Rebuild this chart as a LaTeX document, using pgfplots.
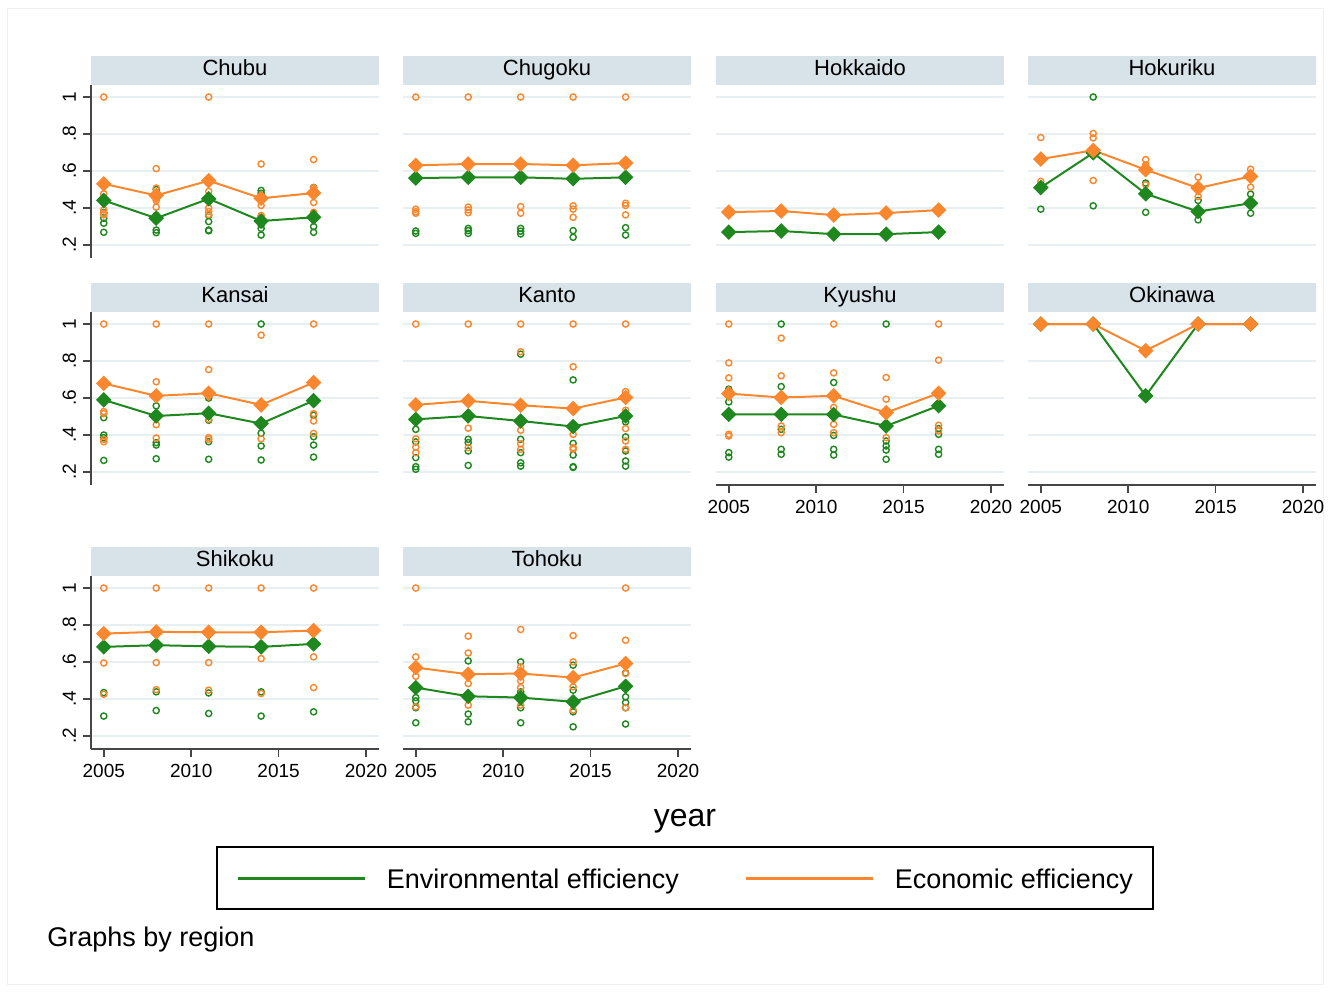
\documentclass[border=0pt]{standalone}
\usepackage{fontspec}
\setmainfont{Liberation Sans}
\usepackage{pgfplots}
\pgfplotsset{compat=1.18}
\definecolor{eg}{RGB}{30,135,30}
\definecolor{eo}{RGB}{250,135,45}
\definecolor{titlebg}{RGB}{216,226,233}
\definecolor{gridcol}{RGB}{232,239,242}
\definecolor{axcol}{RGB}{70,70,70}
\pgfplotsset{
  panel/.style={
    scale only axis, width=144pt, height=86.5pt,
    xmin=2004.27, xmax=2020.74, ymin=0.13, ymax=1.065,
    xtick={2005,2010,2015,2020}, xticklabels={2005,2010,2015,2020},
    ytick={0.2,0.4,0.6,0.8,1}, yticklabels={.2,.4,.6,.8,1},
    separate axis lines,
    axis x line*=bottom, axis y line*=left,
    axis line style={-, draw=axcol, line width=0.75pt},
    tick style={draw=axcol, line width=0.75pt},
    tick align=outside, major tick length=4pt,
    ymajorgrids, grid style={draw=gridcol, line width=0.7pt},
    ticklabel style={font=\fontsize{9.5}{11}\selectfont},
    yticklabel style={rotate=90, anchor=south},
    every axis title shift=0pt,
    title style={at={(0.5,1)}, anchor=south, fill=titlebg, minimum width=144pt,
      minimum height=14.5pt, inner sep=0pt, text height=8pt, text depth=2.3pt,
      yshift=0pt, font=\fontsize{11}{13}\selectfont},
    anchor=north west, clip=false,
  },
  noy/.style={y axis line style={draw=none}, yticklabels={}, ytick style={draw=none}},
  nox/.style={x axis line style={draw=none}, xticklabels={}, xtick style={draw=none}},
  sc/.style={only marks, mark=o, mark size=1.55pt, mark options={line width=0.7pt}, forget plot},
  mn/.style={line width=1pt, mark=square*, mark size=2.25pt, mark options={rotate=45, solid}},
}
\begin{document}
\begin{tikzpicture}
\useasboundingbox (0,0) rectangle (665pt,-496pt);
\draw[gray!12, line width=0.5pt] (3.5pt,-4pt) rectangle (661.5pt,-492pt);

% ---------- Row 1 ----------
\begin{axis}[panel, nox, at={(45.5pt,-42.5pt)}, title=Chubu]
\addplot[sc, eg] coordinates {(2005,0.435)(2005,0.376)(2005,0.345)(2005,0.318)(2005,0.269)(2008,0.50)(2008,0.36)(2008,0.281)(2008,0.267)(2011,0.45)(2011,0.36)(2011,0.327)(2011,0.281)(2011,0.277)(2014,0.495)(2014,0.48)(2014,0.309)(2014,0.29)(2014,0.254)(2017,0.511)(2017,0.37)(2017,0.30)(2017,0.269)};
\addplot[sc, eo] coordinates {(2005,1)(2005,0.477)(2005,0.39)(2005,0.372)(2005,0.363)(2008,0.613)(2008,0.508)(2008,0.405)(2008,0.44)(2011,1)(2011,0.49)(2011,0.40)(2011,0.381)(2011,0.365)(2014,0.638)(2014,0.414)(2014,0.35)(2014,0.36)(2017,0.662)(2017,0.51)(2017,0.43)(2017,0.377)};
\addplot[mn, eg] coordinates {(2005,0.441)(2008,0.345)(2011,0.450)(2014,0.330)(2017,0.350)};
\addplot[mn, eo] coordinates {(2005,0.531)(2008,0.468)(2011,0.548)(2014,0.453)(2017,0.481)};
\end{axis}

\begin{axis}[panel, nox, noy, at={(201.5pt,-42.5pt)}, title=Chugoku]
\addplot[sc, eg] coordinates {(2005,0.276)(2005,0.263)(2008,0.29)(2008,0.278)(2008,0.263)(2011,0.29)(2011,0.275)(2011,0.26)(2014,0.278)(2014,0.242)(2017,0.294)(2017,0.254)};
\addplot[sc, eo] coordinates {(2005,1)(2005,0.394)(2005,0.372)(2005,0.38)(2008,1)(2008,0.405)(2008,0.39)(2008,0.375)(2011,1)(2011,0.408)(2011,0.372)(2014,1)(2014,0.412)(2014,0.394)(2014,0.35)(2017,1)(2017,0.426)(2017,0.414)(2017,0.363)};
\addplot[mn, eg] coordinates {(2005,0.562)(2008,0.566)(2011,0.566)(2014,0.558)(2017,0.566)};
\addplot[mn, eo] coordinates {(2005,0.631)(2008,0.638)(2011,0.638)(2014,0.631)(2017,0.643)};
\end{axis}

\begin{axis}[panel, nox, noy, at={(358pt,-42.5pt)}, title=Hokkaido]
\addplot[sc, eg] coordinates {(2005,0.270)(2008,0.276)(2011,0.259)(2014,0.259)(2017,0.270)};
\addplot[sc, eo] coordinates {(2005,0.378)(2008,0.384)(2011,0.362)(2014,0.373)(2017,0.389)};
\addplot[mn, eg] coordinates {(2005,0.270)(2008,0.276)(2011,0.259)(2014,0.259)(2017,0.270)};
\addplot[mn, eo] coordinates {(2005,0.378)(2008,0.384)(2011,0.362)(2014,0.373)(2017,0.389)};
\end{axis}

\begin{axis}[panel, nox, noy, at={(514pt,-42.5pt)}, title=Hokuriku]
\addplot[sc, eg] coordinates {(2005,0.526)(2005,0.394)(2008,1)(2008,0.412)(2011,0.535)(2011,0.377)(2014,0.441)(2014,0.336)(2017,0.475)(2017,0.372)};
\addplot[sc, eo] coordinates {(2005,0.781)(2005,0.544)(2008,0.803)(2008,0.779)(2008,0.549)(2011,0.662)(2011,0.634)(2011,0.526)(2014,0.567)(2014,0.462)(2017,0.61)(2017,0.513)};
\addplot[mn, eg] coordinates {(2005,0.511)(2008,0.698)(2011,0.477)(2014,0.381)(2017,0.426)};
\addplot[mn, eo] coordinates {(2005,0.665)(2008,0.712)(2011,0.607)(2014,0.508)(2017,0.571)};
\end{axis}

% ---------- Row 2 ----------
\begin{axis}[panel, nox, at={(45.5pt,-156pt)}, title=Kansai]
\addplot[sc, eg] coordinates {(2005,0.494)(2005,0.40)(2005,0.386)(2005,0.263)(2008,0.558)(2008,0.359)(2008,0.346)(2008,0.272)(2011,0.60)(2011,0.48)(2011,0.364)(2011,0.269)(2014,1)(2014,0.41)(2014,0.341)(2014,0.265)(2017,0.507)(2017,0.391)(2017,0.346)(2017,0.281)};
\addplot[sc, eo] coordinates {(2005,1)(2005,0.527)(2005,0.516)(2005,0.377)(2005,0.364)(2008,1)(2008,0.688)(2008,0.456)(2008,0.384)(2011,1)(2011,0.754)(2011,0.485)(2011,0.386)(2011,0.377)(2014,0.94)(2014,0.38)(2017,1)(2017,0.516)(2017,0.476)(2017,0.409)};
\addplot[mn, eg] coordinates {(2005,0.590)(2008,0.503)(2011,0.518)(2014,0.462)(2017,0.586)};
\addplot[mn, eo] coordinates {(2005,0.679)(2008,0.612)(2011,0.626)(2014,0.563)(2017,0.684)};
\end{axis}

\begin{axis}[panel, nox, noy, at={(201.5pt,-156pt)}, title=Kanto]
\addplot[sc, eg] coordinates {(2005,0.431)(2005,0.363)(2005,0.278)(2005,0.229)(2005,0.215)(2008,0.377)(2008,0.359)(2008,0.314)(2008,0.236)(2011,0.837)(2011,0.377)(2011,0.305)(2011,0.25)(2011,0.232)(2014,0.698)(2014,0.355)(2014,0.292)(2014,0.229)(2014,0.225)(2017,0.471)(2017,0.39)(2017,0.314)(2017,0.26)(2017,0.232)};
\addplot[sc, eo] coordinates {(2005,1)(2005,0.38)(2005,0.335)(2005,0.305)(2008,1)(2008,0.437)(2008,0.332)(2011,1)(2011,0.85)(2011,0.426)(2011,0.353)(2011,0.323)(2014,1)(2014,0.769)(2014,0.404)(2014,0.332)(2014,0.323)(2017,1)(2017,0.635)(2017,0.534)(2017,0.435)(2017,0.368)(2017,0.323)};
\addplot[mn, eg] coordinates {(2005,0.485)(2008,0.503)(2011,0.476)(2014,0.446)(2017,0.503)};
\addplot[mn, eo] coordinates {(2005,0.563)(2008,0.585)(2011,0.561)(2014,0.543)(2017,0.603)};
\end{axis}

\begin{axis}[panel, noy, at={(358pt,-156pt)}, title=Kyushu]
\addplot[sc, eg] coordinates {(2005,0.648)(2005,0.579)(2005,0.305)(2005,0.281)(2008,1)(2008,0.662)(2008,0.431)(2008,0.323)(2008,0.296)(2011,0.684)(2011,0.398)(2011,0.323)(2011,0.292)(2014,1)(2014,0.368)(2014,0.341)(2014,0.319)(2014,0.269)(2017,0.435)(2017,0.404)(2017,0.323)(2017,0.296)};
\addplot[sc, eo] coordinates {(2005,1)(2005,0.79)(2005,0.709)(2005,0.404)(2005,0.395)(2008,0.924)(2008,0.72)(2008,0.449)(2008,0.413)(2011,1)(2011,0.736)(2011,0.549)(2011,0.458)(2011,0.413)(2014,0.711)(2014,0.594)(2014,0.386)(2017,1)(2017,0.805)(2017,0.453)(2017,0.422)};
\addplot[mn, eg] coordinates {(2005,0.512)(2008,0.512)(2011,0.511)(2014,0.449)(2017,0.558)};
\addplot[mn, eo] coordinates {(2005,0.624)(2008,0.603)(2011,0.612)(2014,0.521)(2017,0.626)};
\end{axis}

\begin{axis}[panel, noy, at={(514pt,-156pt)}, title=Okinawa]
\addplot[mn, eg] coordinates {(2005,1)(2008,1)(2011,0.612)(2014,1)(2017,1)};
\addplot[mn, eo] coordinates {(2005,1)(2008,1)(2011,0.856)(2014,1)(2017,1)};
\end{axis}

% ---------- Row 3 ----------
\begin{axis}[panel, at={(45.5pt,-288pt)}, title=Shikoku]
\addplot[sc, eg] coordinates {(2005,0.435)(2005,0.308)(2008,0.439)(2008,0.338)(2011,0.433)(2011,0.322)(2014,0.439)(2014,0.308)(2017,0.331)};
\addplot[sc, eo] coordinates {(2005,1)(2005,0.595)(2005,0.426)(2008,1)(2008,0.597)(2008,0.451)(2011,1)(2011,0.597)(2011,0.448)(2014,1)(2014,0.619)(2014,0.43)(2017,1)(2017,0.628)(2017,0.462)};
\addplot[mn, eg] coordinates {(2005,0.682)(2008,0.691)(2011,0.685)(2014,0.682)(2017,0.698)};
\addplot[mn, eo] coordinates {(2005,0.754)(2008,0.763)(2011,0.761)(2014,0.761)(2017,0.770)};
\end{axis}

\begin{axis}[panel, noy, at={(201.5pt,-288pt)}, title=Tohoku,
  legend columns=2,
  legend style={at={(0.979,-0.561)}, anchor=north, draw=black, line width=0.8pt,
    inner xsep=10pt, inner ysep=8pt,
    font=\fontsize{13.5}{16}\selectfont,
    nodes={inner sep=0pt, text height=13pt, text depth=2pt},
    /tikz/every odd column/.append style={column sep=10pt},
    /tikz/every even column/.append style={column sep=33pt}},
  legend image code/.code={\draw[#1, line width=1.4pt] (0pt,-0.5pt) -- (63.5pt,-0.5pt);}]
\addplot[sc, eg] coordinates {(2005,0.408)(2005,0.39)(2005,0.353)(2005,0.272)(2008,0.606)(2008,0.319)(2008,0.277)(2011,0.601)(2011,0.439)(2011,0.353)(2011,0.272)(2014,0.583)(2014,0.448)(2014,0.331)(2014,0.25)(2017,0.541)(2017,0.412)(2017,0.381)(2017,0.353)(2017,0.265)};
\addplot[sc, eo] coordinates {(2005,1)(2005,0.628)(2005,0.523)(2005,0.358)(2008,0.74)(2008,0.649)(2008,0.484)(2008,0.367)(2011,0.776)(2011,0.574)(2011,0.498)(2011,0.462)(2011,0.367)(2014,0.743)(2014,0.601)(2014,0.466)(2014,0.34)(2017,1)(2017,0.718)(2017,0.538)(2017,0.353)};
\addplot[mn, eg] coordinates {(2005,0.462)(2008,0.415)(2011,0.408)(2014,0.385)(2017,0.469)};
\addplot[mn, eo] coordinates {(2005,0.570)(2008,0.534)(2011,0.538)(2014,0.516)(2017,0.592)};
\legend{Environmental efficiency, Economic efficiency}
\end{axis}

\node[font=\fontsize{16}{19}\selectfont] at (342.5pt,-410.5pt) {year};
\node[anchor=west, inner sep=0pt, font=\fontsize{13.5}{16}\selectfont] at (23.5pt,-470pt) {Graphs by region};
\end{tikzpicture}
\end{document}
